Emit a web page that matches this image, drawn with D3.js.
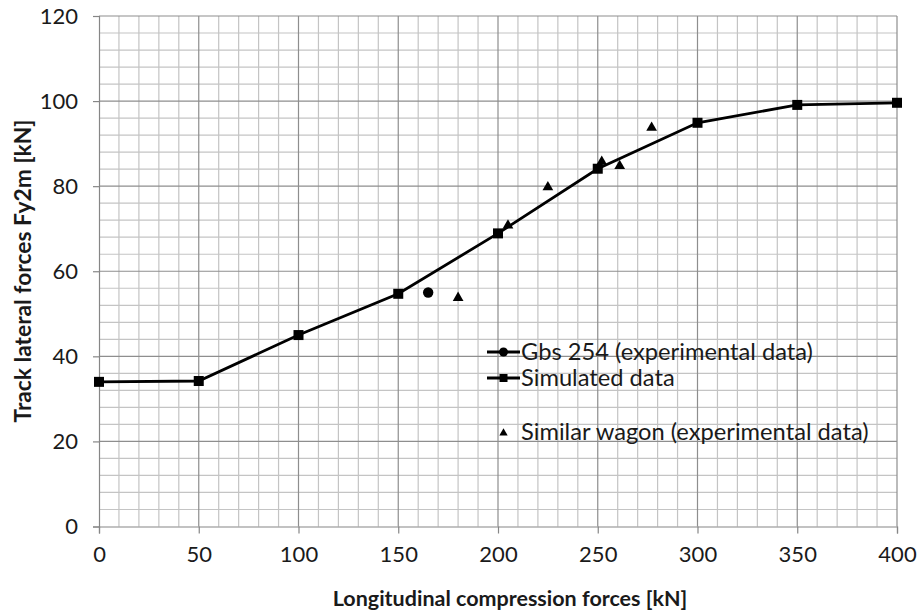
<!DOCTYPE html>
<html>
<head>
<meta charset="utf-8">
<script src="https://cdn.jsdelivr.net/npm/d3@7"></script>
<style>
  body { margin: 0; background: #fff; }
  text { font-family: Lato, "Open Sans", sans-serif; fill: #1a1a1a; }
</style>
</head>
<body>
<div id="chart"></div>
<script>
// simulated curve
const simX = [0, 50, 100, 150, 200, 250, 300, 350, 400];
const simY = [34, 34.2, 45, 54.7, 68.9, 84.1, 94.9, 99.1, 99.6];
// Gbs 254 experimental point
const gbsX = [165];
const gbsY = [55];
// similar wagon experimental points
const wagX = [180, 205, 225, 252, 261, 277];
const wagY = [54, 71, 80, 86, 85, 94];

const xTicks = [0, 50, 100, 150, 200, 250, 300, 350, 400];
const yTicks = [0, 20, 40, 60, 80, 100, 120];
const legendLabels = ["Gbs 254 (experimental data)", "Simulated data", "Similar wagon (experimental data)"];

const W = 919, H = 614;
const m = {left: 99, right: 22, top: 16, bottom: 88};

const svg = d3.select("#chart").append("svg")
  .attr("width", W).attr("height", H);

const x = d3.scaleLinear().domain([0, 400]).range([m.left, W - m.right]);
const y = d3.scaleLinear().domain([0, 120]).range([H - m.bottom + 0.5, m.top]);

// minor grid
const grid = svg.append("g");
grid.selectAll(".vx").data(d3.range(10, 400, 10).filter(v => v % 50 != 0)).enter()
  .append("line")
  .attr("x1", d => x(d)).attr("x2", d => x(d))
  .attr("y1", y(0)).attr("y2", y(120))
  .attr("stroke", "#c4c4c4").attr("stroke-width", 1.2);
grid.selectAll(".hy").data(d3.range(4, 120, 4).filter(v => v % 20 != 0)).enter()
  .append("line")
  .attr("x1", x(0)).attr("x2", x(400))
  .attr("y1", d => y(d)).attr("y2", d => y(d))
  .attr("stroke", "#c4c4c4").attr("stroke-width", 1.2);
// major grid
grid.selectAll(".mx").data(xTicks.slice(1)).enter()
  .append("line")
  .attr("x1", d => x(d)).attr("x2", d => x(d))
  .attr("y1", y(0)).attr("y2", y(120))
  .attr("stroke", "#8e8e8e").attr("stroke-width", 1.2);
grid.selectAll(".my").data(yTicks.slice(1)).enter()
  .append("line")
  .attr("x1", x(0)).attr("x2", x(400))
  .attr("y1", d => y(d)).attr("y2", d => y(d))
  .attr("stroke", "#8e8e8e").attr("stroke-width", 1.2);

// axes
const xAxis = svg.append("g")
  .attr("transform", "translate(0," + y(0) + ")")
  .call(d3.axisBottom(x).tickValues(xTicks).tickSize(7).tickPadding(13));
const yAxis = svg.append("g")
  .attr("transform", "translate(" + x(0) + ",0)")
  .call(d3.axisLeft(y).tickValues(yTicks).tickSize(6).tickPadding(15));
[xAxis, yAxis].forEach(a => {
  a.select(".domain").attr("stroke", "#868686").attr("stroke-width", 1.2);
  a.selectAll(".tick line").attr("stroke", "#868686").attr("stroke-width", 1.2);
  a.selectAll("text").attr("font-size", 22).attr("fill", "#1a1a1a")
    .attr("font-family", "Lato, 'Open Sans', sans-serif");
});

// titles
svg.append("text")
  .attr("x", 510).attr("y", 606)
  .attr("text-anchor", "middle")
  .attr("font-size", 21.5).attr("font-weight", "bold")
  .text("Longitudinal compression forces [kN]");
svg.append("text")
  .attr("transform", "translate(31," + 271 + ") rotate(-90)")
  .attr("text-anchor", "middle")
  .attr("font-size", 22.8).attr("font-weight", "bold")
  .text("Track lateral forces Fy2m [kN]");

// simulated line
const sim = simX.map((v, i) => [v, simY[i]]);
svg.append("path")
  .datum(sim)
  .attr("fill", "none").attr("stroke", "#000").attr("stroke-width", 2.8)
  .attr("d", d3.line().x(d => x(d[0])).y(d => y(d[1])));
svg.selectAll(".sq").data(sim).enter().append("rect")
  .attr("x", d => x(d[0]) - 5).attr("y", d => y(d[1]) - 5)
  .attr("width", 10).attr("height", 10).attr("fill", "#000");

// Gbs 254
svg.selectAll(".gb").data(gbsX.map((v, i) => [v, gbsY[i]])).enter().append("circle")
  .attr("cx", d => x(d[0])).attr("cy", d => y(d[1])).attr("r", 5.2).attr("fill", "#000");

// similar wagon
const tri = d3.symbol().type(d3.symbolTriangle).size(50);
svg.selectAll(".tr").data(wagX.map((v, i) => [v, wagY[i]])).enter().append("path")
  .attr("d", tri)
  .attr("transform", d => "translate(" + x(d[0]) + "," + (y(d[1]) + 1) + ")")
  .attr("fill", "#000");

// legend
const lg = svg.append("g").attr("transform", "translate(487,0)");
const ly = [352, 378, 432];
legendLabels.forEach((t, i) => {
  const g = lg.append("g").attr("transform", "translate(0," + ly[i] + ")");
  if (i < 2) {
    g.append("line").attr("x1", 0).attr("x2", 33).attr("y1", 0).attr("y2", 0)
      .attr("stroke", "#000").attr("stroke-width", 2.8);
  }
  if (i == 0) g.append("circle").attr("cx", 16.5).attr("cy", 0).attr("r", 4.5).attr("fill", "#000");
  if (i == 1) g.append("rect").attr("x", 12.5).attr("y", -4).attr("width", 8).attr("height", 8).attr("fill", "#000");
  if (i == 2) g.append("path").attr("d", d3.symbol().type(d3.symbolTriangle).size(30))
    .attr("transform", "translate(16.5,1)").attr("fill", "#000");
  g.append("text").attr("x", 34).attr("y", 0).attr("dy", "0.35em")
    .attr("font-size", 23.7).text(t);
});
</script>
</body>
</html>
